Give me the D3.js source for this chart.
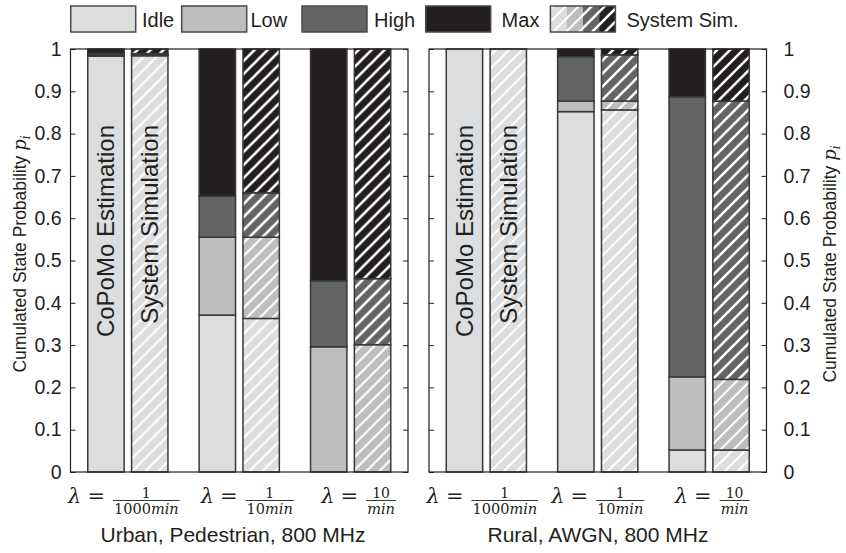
<!DOCTYPE html>
<html lang="en">
<head>
  <meta charset="UTF-8" />
  <title>Cumulated state probability</title>
  <style>
    body { margin: 0; background: white; overflow: hidden; }
    svg { display: block; }
    text { font-family: "Liberation Sans", Arial, sans-serif; fill: #231f20; }
    .tex { font-family: "DejaVu Serif", "Liberation Serif", serif; }
  </style>
</head>
<body>
<svg id="chart" width="846" height="553"></svg>
<script src="https://d3js.org/d3.v7.min.js"></script>
<script>
// ---- data ----
const states = ["Idle", "Low", "High", "Max"];
const stateColors = ["#dcdddf", "#bdbec0", "#636466", "#231f20"];
const lambdaNum = ["1", "1", "10"];
const lambdaDen = ["1000", "10", ""];
const barKinds = ["est", "sim"];
const barNames = ["CoPoMo Estimation", "System Simulation"];

// per-state probabilities (Idle, Low, High, Max) for each lambda
const urbanEst = [[0.983, 0.003, 0.004, 0.010], [0.371, 0.184, 0.097, 0.348], [0, 0.296, 0.156, 0.548]];
const urbanSim = [[0.984, 0.003, 0.002, 0.011], [0.363, 0.192, 0.105, 0.340], [0, 0.301, 0.156, 0.543]];
const ruralEst = [[1, 0, 0, 0], [0.852, 0.025, 0.105, 0.018], [0.052, 0.173, 0.662, 0.113]];
const ruralSim = [[1, 0, 0, 0], [0.856, 0.021, 0.109, 0.014], [0.052, 0.167, 0.658, 0.123]];

const panels = [
  { title: "Urban, Pedestrian, 800 MHz", est: urbanEst, sim: urbanSim, x0: 70.5, titleX: 233, labelShift: [-4, 8, 8] },
  { title: "Rural, AWGN, 800 MHz", est: ruralEst, sim: ruralSim, x0: 429, titleX: 598, labelShift: [-4, 0, 3] }
];

const svg = d3.select("#chart");
const panelW = 337.5;
const y = d3.scaleLinear().domain([0, 1]).range([472, 49]);

// hatch patterns, one per state colour
const defs = svg.append("defs");
states.forEach((s, i) => {
  const p = defs.append("pattern")
    .attr("id", "hatch-" + s)
    .attr("patternUnits", "userSpaceOnUse")
    .attr("width", 13).attr("height", 13);
  p.append("rect").attr("width", 13).attr("height", 13).attr("fill", stateColors[i]);
  p.append("path")
    .attr("d", "M-3,3 L3,-3 M0,13 L13,0 M10,16 L16,10")
    .attr("stroke", "white")
    .attr("stroke-width", i < 2 ? 2 : 2.6);
});

const outer = d3.scaleBand().domain(d3.range(3)).range([0, panelW])
  .paddingInner(0.28).paddingOuter(0.155);
const inner = d3.scaleBand().domain(barKinds).range([0, outer.bandwidth()])
  .paddingInner(0.17);

panels.forEach((panel, pi) => {
  const g = svg.append("g").attr("transform", `translate(${panel.x0},0)`);

  // bars
  [0, 1, 2].forEach(li => {
    barKinds.forEach(kind => {
      const vals = panel[kind][li];
      const bx = outer(li) + inner(kind);
      let cum = 0;
      const segs = vals.map((v, si) => {
        const s = { si, lo: cum, hi: cum + v };
        cum += v;
        return s;
      }).filter(s => s.hi - s.lo > 0);
      g.append("g").selectAll("rect")
        .data(segs)
        .join("rect")
        .attr("x", bx)
        .attr("width", inner.bandwidth())
        .attr("y", d => y(d.hi))
        .attr("height", d => y(d.lo) - y(d.hi))
        .attr("fill", d => kind === "sim" ? `url(#hatch-${states[d.si]})` : stateColors[d.si])
        .attr("stroke", "#383838")
        .attr("stroke-width", 1.5);
    });
  });

  // frame
  g.append("rect")
    .attr("x", 0).attr("y", y(1))
    .attr("width", panelW).attr("height", y(0) - y(1))
    .attr("fill", "none").attr("stroke", "#231f20").attr("stroke-width", 1.2);

  // axes, ticks pointing inward
  const fmt = d3.format(".1~f");
  const left = g.append("g")
    .call(d3.axisLeft(y).ticks(10).tickSizeInner(-5).tickSizeOuter(0)
      .tickPadding(9).tickFormat(pi === 0 ? fmt : ""));
  const right = g.append("g").attr("transform", `translate(${panelW},0)`)
    .call(d3.axisRight(y).ticks(10).tickSizeInner(-5).tickSizeOuter(0)
      .tickPadding(17).tickFormat(pi === 1 ? fmt : ""));
  [left, right].forEach(a => {
    a.select(".domain").remove();
    a.selectAll("line").attr("stroke", "#231f20");
    a.selectAll("text").attr("font-size", 19.5).attr("fill", "#231f20")
      .style("font-family", "'Liberation Sans', Arial, sans-serif");
  });

  // in-bar captions
  barKinds.forEach((kind, k) => {
    const cx = outer(0) + inner(kind) + inner.bandwidth() / 2;
    g.append("text")
      .attr("transform", `translate(${cx + 8.5},125) rotate(-90)`)
      .attr("text-anchor", "end")
      .attr("font-size", 24)
      .text(barNames[k]);
  });

  // lambda labels
  [0, 1, 2].forEach(li => {
    const lg = g.append("g");
    const lam = lg.append("text").attr("class", "tex")
      .attr("font-size", 21).attr("font-style", "italic")
      .attr("y", 503).text("λ");
    const lw = lam.node().getComputedTextLength();
    const eq = lg.append("text").attr("class", "tex")
      .attr("font-size", 21).attr("x", lw + 6).attr("y", 503).text("=");
    const ew = eq.node().getComputedTextLength();
    const fx = lw + 6 + ew + 8;
    const num = lg.append("text").attr("class", "tex").attr("font-size", 14)
      .attr("y", 497.5).text(lambdaNum[li]);
    const den = lg.append("text").attr("class", "tex").attr("font-size", 14.5)
      .attr("y", 513.5);
    if (lambdaDen[li]) den.append("tspan").text(lambdaDen[li]);
    den.append("tspan").attr("font-style", "italic").text("min");
    const fw = Math.max(den.node().getComputedTextLength(), num.node().getComputedTextLength()) + 2;
    num.attr("x", fx + fw / 2).attr("text-anchor", "middle");
    den.attr("x", fx + fw / 2).attr("text-anchor", "middle");
    lg.append("line")
      .attr("x1", fx).attr("x2", fx + fw)
      .attr("y1", 500.5).attr("y2", 500.5)
      .attr("stroke", "#231f20").attr("stroke-width", 0.9);
    const total = fx + fw;
    const cx = outer(li) + outer.bandwidth() / 2 + panel.labelShift[li];
    lg.attr("transform", `translate(${cx - total / 2},0)`);
  });

  // panel title
  svg.append("text")
    .attr("x", panel.titleX).attr("y", 542)
    .attr("text-anchor", "middle")
    .attr("font-size", 21)
    .text(panel.title);
});

// axis titles
function axisTitle(x, yc) {
  const t = svg.append("text")
    .attr("transform", `translate(${x},${yc}) rotate(-90)`)
    .attr("text-anchor", "middle")
    .attr("font-size", 17.5);
  t.append("tspan").text("Cumulated State Probability ");
  t.append("tspan").attr("class", "tex").attr("font-style", "italic").attr("font-size", 18).text("p");
  t.append("tspan").attr("class", "tex").attr("font-style", "italic").attr("font-size", 12)
    .attr("dy", 4).text("i");
}
axisTitle(26, 254);
axisTitle(836, 264);

// legend
const legendBoxX = [70.7, 181.7, 302, 425.7, 550.4];
const legendTextX = [142, 250.5, 374, 501.6, 626.4];
const legend = svg.append("g");
states.forEach((s, i) => {
  legend.append("rect")
    .attr("x", legendBoxX[i]).attr("y", 6)
    .attr("width", 65).attr("height", 26)
    .attr("fill", stateColors[i])
    .attr("stroke", "#4a4a4a").attr("stroke-width", 1.5);
  legend.append("text")
    .attr("x", legendTextX[i]).attr("y", 27)
    .attr("font-size", 20).text(s);
});
const segW = 65 / states.length;
states.forEach((s, i) => {
  legend.append("rect")
    .attr("x", legendBoxX[4] + i * segW).attr("y", 6)
    .attr("width", segW).attr("height", 26)
    .attr("fill", `url(#hatch-${s})`);
});
legend.append("rect")
  .attr("x", legendBoxX[4]).attr("y", 6)
  .attr("width", 65).attr("height", 26)
  .attr("fill", "none")
  .attr("stroke", "#4a4a4a").attr("stroke-width", 1.5);
legend.append("text")
  .attr("x", legendTextX[4]).attr("y", 27)
  .attr("font-size", 20).text("System Sim.");
</script>
</body>
</html>
